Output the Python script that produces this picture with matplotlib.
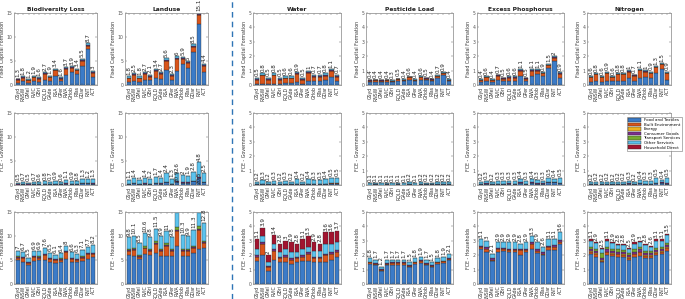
import matplotlib
matplotlib.use("Agg")
import matplotlib.pyplot as plt
from matplotlib.patches import Patch
from matplotlib.lines import Line2D

regions = ['GSyd', 'RNSW', 'GMel', 'RVIC', 'GBri', 'RQLD', 'GAde', 'RSA', 'GPer',
           'RWA', 'GHob', 'RTas', 'GDar', 'RNT', 'ACT']
categories = ['Food and Textiles', 'Built Environment', 'Energy', 'Consumer Goods',
              'Transport Services', 'Other Services', 'Household Direct']
colors = ['#3B7BC8', '#D9541A', '#EDB120', '#7E2F8E', '#77AC30', '#5BC3EE', '#A2142F']
titles = ['Biodiversity Loss', 'Landuse', 'Water', 'Pesticide Load',
          'Excess Phosphorus', 'Nitrogen']
row_labels = ['Fixed Capital Formation', 'FCE - Government', 'FCE - Households']
Z = [0] * 15

# ---------- Row 1: Fixed Capital Formation ----------
bio_fcf_tot = [1.3, 1.8, 1.2, 1.9, 1.6, 2.7, 1.9, 3.4, 1.6, 3.7, 3.9, 3.4, 5.5, 8.7, 3]
bio_fcf_food = [0.5, 0.8, 0.5, 0.8, 0.7, 1.0, 0.8, 1.9, 0.8, 2.0, 2.7, 2.2, 4.0, 7.5, 1.7]
bio_fcf_built = [0.55, 0.7, 0.45, 0.8, 0.65, 1.35, 0.8, 1.15, 0.55, 1.35, 0.85, 0.85, 1.0, 0.7, 0.85]
bio_fcf_cons = [0.1, 0.1, 0.1, 0.1, 0.1, 0.15, 0.1, 0.15, 0.1, 0.15, 0.15, 0.15, 0.2, 0.2, 0.15]
bio_fcf_other = [0.15, 0.2, 0.15, 0.2, 0.15, 0.2, 0.2, 0.2, 0.15, 0.2, 0.2, 0.2, 0.3, 0.3, 0.3]

lu_fcf_tot = [1.8, 2.5, 1.8, 2.7, 2.1, 3.4, 2.7, 5.6, 2.3, 6, 5.9, 5, 8.5, 15.1, 4.4]
lu_fcf_food = [0.7, 0.9, 0.7, 1.1, 1.0, 1.5, 1.3, 3.2, 1.0, 3.0, 4.3, 3.6, 6.8, 12.7, 2.8]
lu_fcf_built = [0.7, 1.15, 0.7, 1.15, 0.7, 1.45, 0.95, 1.9, 0.9, 2.5, 1.1, 0.95, 1.2, 1.8, 1.1]
lu_fcf_cons = [0.15, 0.15, 0.15, 0.15, 0.15, 0.15, 0.15, 0.2, 0.15, 0.2, 0.2, 0.15, 0.2, 0.25, 0.2]
lu_fcf_other = [0.25, 0.3, 0.25, 0.3, 0.25, 0.3, 0.3, 0.3, 0.25, 0.3, 0.3, 0.3, 0.3, 0.35, 0.3]

wa_fcf_tot = [0.5, 0.8, 0.5, 0.8, 0.5, 0.6, 0.6, 0.9, 0.5, 1, 0.7, 0.7, 0.8, 1.1, 0.7]
wa_fcf_food = [0.1, 0.1, 0.1, 0.1, 0.1, 0.15, 0.12, 0.2, 0.1, 0.25, 0.3, 0.25, 0.35, 0.55, 0.25]
wa_fcf_built = [0.28, 0.56, 0.28, 0.56, 0.28, 0.32, 0.35, 0.56, 0.28, 0.61, 0.27, 0.32, 0.30, 0.40, 0.31]
wa_fcf_cons = [0.05, 0.06, 0.05, 0.06, 0.05, 0.05, 0.05, 0.06, 0.05, 0.06, 0.05, 0.05, 0.06, 0.06, 0.05]
wa_fcf_other = [0.07, 0.08, 0.07, 0.08, 0.07, 0.08, 0.08, 0.08, 0.07, 0.08, 0.08, 0.08, 0.09, 0.09, 0.09]

pe_fcf_tot = [0.4, 0.4, 0.4, 0.4, 0.3, 0.5, 0.4, 0.6, 0.4, 0.6, 0.5, 0.4, 0.7, 0.9, 0.4]
pe_fcf_food = [0.2, 0.2, 0.2, 0.2, 0.2, 0.25, 0.25, 0.38, 0.25, 0.38, 0.35, 0.3, 0.52, 0.72, 0.25]
pe_fcf_built = [0.1, 0.13, 0.1, 0.13, 0.08, 0.15, 0.1, 0.15, 0.1, 0.17, 0.1, 0.07, 0.1, 0.1, 0.1]
pe_fcf_cons = [0.02, 0.02, 0.02, 0.02, 0.02, 0.02, 0.02, 0.02, 0.02, 0.02, 0.02, 0.02, 0.03, 0.03, 0.02]
pe_fcf_other = [0.03, 0.03, 0.03, 0.03, 0.03, 0.03, 0.03, 0.03, 0.03, 0.03, 0.03, 0.03, 0.03, 0.03, 0.03]

ep_fcf_tot = [0.4, 0.6, 0.4, 0.7, 0.5, 0.6, 0.6, 1.1, 0.5, 1.1, 1.1, 0.9, 1.5, 2, 0.9]
ep_fcf_food = [0.2, 0.25, 0.2, 0.35, 0.25, 0.3, 0.3, 0.65, 0.25, 0.65, 0.75, 0.6, 1.15, 1.65, 0.5]
ep_fcf_built = [0.15, 0.28, 0.15, 0.28, 0.18, 0.22, 0.22, 0.35, 0.18, 0.35, 0.25, 0.2, 0.22, 0.22, 0.28]
ep_fcf_cons = [0.03, 0.03, 0.03, 0.03, 0.03, 0.03, 0.03, 0.04, 0.03, 0.04, 0.04, 0.03, 0.04, 0.05, 0.04]
ep_fcf_other = [0.04, 0.05, 0.04, 0.05, 0.04, 0.05, 0.05, 0.05, 0.04, 0.05, 0.05, 0.05, 0.06, 0.06, 0.06]

ni_fcf_tot = [0.6, 0.8, 0.6, 0.9, 0.6, 0.8, 0.8, 1, 0.7, 1.1, 1, 0.9, 1.3, 1.5, 0.9]
ni_fcf_food = [0.2, 0.25, 0.2, 0.3, 0.25, 0.3, 0.3, 0.5, 0.3, 0.5, 0.55, 0.5, 0.8, 1.1, 0.35]
ni_fcf_built = [0.33, 0.48, 0.33, 0.53, 0.28, 0.43, 0.43, 0.43, 0.33, 0.53, 0.38, 0.33, 0.43, 0.33, 0.48]
ni_fcf_cons = [0.03, 0.03, 0.03, 0.03, 0.03, 0.03, 0.03, 0.03, 0.03, 0.03, 0.03, 0.03, 0.03, 0.03, 0.03]
ni_fcf_other = [0.05, 0.05, 0.05, 0.05, 0.05, 0.05, 0.05, 0.05, 0.05, 0.05, 0.05, 0.05, 0.05, 0.05, 0.05]

# ---------- Row 2: FCE - Government ----------
bio_gov_tot = [0.5, 0.7, 0.5, 0.7, 0.6, 0.8, 0.7, 0.9, 0.6, 1.1, 0.9, 0.8, 1.3, 1.2, 1.3]
bio_gov_food = [0.1, 0.2, 0.1, 0.15, 0.12, 0.2, 0.15, 0.25, 0.12, 0.3, 0.2, 0.2, 0.35, 0.4, 0.3]
bio_gov_cons = [0.04, 0.05, 0.04, 0.05, 0.04, 0.05, 0.05, 0.05, 0.04, 0.06, 0.05, 0.05, 0.07, 0.07, 0.07]
bio_gov_other = [0.36, 0.45, 0.36, 0.5, 0.44, 0.55, 0.5, 0.6, 0.44, 0.74, 0.65, 0.55, 0.88, 0.73, 0.93]

lu_gov_tot = [1.1, 1.4, 1, 1.4, 1.2, 1.7, 1.4, 2.4, 1.3, 2.6, 2, 1.9, 2.8, 4.8, 2.5]
lu_gov_food = [0.2, 0.35, 0.2, 0.3, 0.25, 0.4, 0.3, 0.6, 0.25, 0.7, 0.5, 0.45, 0.8, 1.5, 0.55]
lu_gov_cons = [0.06, 0.07, 0.06, 0.07, 0.06, 0.08, 0.07, 0.1, 0.06, 0.1, 0.08, 0.08, 0.1, 0.15, 0.1]
lu_gov_other = [0.84, 0.98, 0.74, 1.03, 0.89, 1.22, 1.03, 1.7, 0.99, 1.8, 1.42, 1.37, 1.9, 3.15, 1.85]

wa_gov_tot = [0.2, 0.3, 0.2, 0.3, 0.2, 0.3, 0.2, 0.4, 0.2, 0.4, 0.3, 0.3, 0.4, 0.5, 0.5]
wa_gov_food = [0.04, 0.05, 0.04, 0.05, 0.04, 0.05, 0.04, 0.06, 0.04, 0.06, 0.05, 0.05, 0.06, 0.08, 0.07]
wa_gov_built = [0.02, 0.03, 0.02, 0.03, 0.02, 0.03, 0.02, 0.04, 0.02, 0.04, 0.03, 0.03, 0.04, 0.08, 0.04]
wa_gov_other = [0.16, 0.24, 0.14, 0.22, 0.16, 0.22, 0.16, 0.3, 0.16, 0.3, 0.24, 0.24, 0.32, 0.34, 0.38]

pe_gov_tot = [0.1, 0.1, 0.1, 0.1, 0.1, 0.1, 0.1, 0.2, 0.1, 0.2, 0.2, 0.2, 0.2, 0.2, 0.2]
pe_gov_food = [0.03, 0.04, 0.03, 0.04, 0.03, 0.04, 0.03, 0.05, 0.03, 0.05, 0.04, 0.04, 0.05, 0.05, 0.05]
pe_gov_other = [0.09, 0.1, 0.08, 0.1, 0.09, 0.1, 0.09, 0.13, 0.09, 0.13, 0.11, 0.11, 0.14, 0.14, 0.15]

ep_gov_tot = [0.2, 0.3, 0.2, 0.3, 0.3, 0.3, 0.3, 0.4, 0.3, 0.4, 0.3, 0.3, 0.5, 0.4, 0.5]
ep_gov_food = [0.06, 0.1, 0.06, 0.08, 0.07, 0.1, 0.08, 0.15, 0.07, 0.15, 0.1, 0.1, 0.18, 0.2, 0.12]
ep_gov_cons = [0.02, 0.02, 0.02, 0.02, 0.02, 0.02, 0.02, 0.03, 0.02, 0.03, 0.02, 0.02, 0.03, 0.03, 0.03]
ep_gov_other = [0.14, 0.18, 0.12, 0.18, 0.16, 0.18, 0.17, 0.24, 0.16, 0.24, 0.2, 0.19, 0.3, 0.2, 0.33]

ni_gov_tot = [0.2, 0.2, 0.2, 0.2, 0.2, 0.2, 0.2, 0.3, 0.2, 0.4, 0.3, 0.3, 0.5, 0.4, 0.5]
ni_gov_food = [0.05, 0.07, 0.05, 0.06, 0.05, 0.07, 0.06, 0.1, 0.05, 0.12, 0.08, 0.08, 0.13, 0.15, 0.1]
ni_gov_cons = [0.02, 0.02, 0.02, 0.02, 0.02, 0.02, 0.02, 0.02, 0.02, 0.03, 0.02, 0.02, 0.03, 0.03, 0.03]
ni_gov_other = [0.13, 0.15, 0.12, 0.14, 0.14, 0.14, 0.14, 0.18, 0.13, 0.2, 0.17, 0.16, 0.3, 0.2, 0.34]

# ---------- Row 3: FCE - Households ----------
bio_hh_tot = [7, 6.7, 5.5, 6.9, 6.9, 7.6, 6.5, 6.1, 6.4, 8, 6.6, 6.3, 7.1, 7.7, 8.2]
bio_hh_food = [5.0, 4.6, 4.0, 4.8, 5.0, 5.0, 4.6, 4.4, 4.5, 5.2, 4.6, 4.5, 4.8, 5.2, 5.6]
bio_hh_built = [0.5, 0.8, 0.3, 0.8, 0.5, 1.1, 0.6, 0.6, 0.6, 1.4, 0.6, 0.5, 0.7, 1.0, 0.6]
bio_hh_cons = [0.2, 0.2, 0.2, 0.2, 0.2, 0.2, 0.2, 0.2, 0.2, 0.2, 0.2, 0.2, 0.2, 0.2, 0.2]
bio_hh_trans = [0.05, 0.05, 0.05, 0.05, 0.05, 0.05, 0.05, 0.05, 0.05, 0.05, 0.05, 0.05, 0.05, 0.05, 0.05]
bio_hh_other = [1.2, 1.05, 0.95, 1.05, 1.15, 1.25, 1.05, 0.85, 1.05, 1.15, 1.15, 1.05, 1.35, 1.25, 1.75]

lu_hh_tot = [9.8, 10.1, 8.5, 10.6, 9.8, 11.5, 9.9, 11, 9.8, 20.9, 10.3, 9.9, 11.3, 20.5, 12.8]
lu_hh_food = [6.0, 5.8, 5.2, 6.2, 6.0, 6.5, 5.8, 5.8, 5.8, 7.9, 5.8, 5.8, 6.5, 7.3, 7.5]
lu_hh_built = [0.8, 1.2, 0.5, 1.2, 0.8, 1.9, 1.0, 2.2, 1.0, 3.2, 1.0, 1.0, 1.0, 4.0, 1.0]
lu_hh_cons = [0.2, 0.2, 0.2, 0.2, 0.2, 0.2, 0.2, 0.2, 0.2, 0.2, 0.2, 0.2, 0.2, 0.2, 0.2]
lu_hh_trans = [0.2, 0.3, 0.2, 0.3, 0.2, 0.4, 0.3, 0.4, 0.3, 0.5, 0.3, 0.3, 0.3, 0.5, 0.3]
lu_hh_other = [2.6, 2.6, 2.4, 2.7, 2.6, 2.5, 2.6, 2.4, 2.5, 9.1, 3.0, 2.6, 3.3, 8.5, 3.8]

wa_hh_tot = [3.1, 3.9, 2, 3.4, 2.8, 3, 2.9, 2.8, 3.1, 3.3, 2.9, 2.8, 3.6, 3.6, 3.7]
wa_hh_food = [1.6, 2.0, 0.9, 1.7, 1.5, 1.5, 1.4, 1.5, 1.6, 1.6, 1.5, 1.5, 1.5, 1.7, 1.9]
wa_hh_built = [0.3, 0.8, 0.25, 0.6, 0.3, 0.4, 0.3, 0.3, 0.3, 0.5, 0.3, 0.3, 0.5, 0.4, 0.35]
wa_hh_cons = [0.1, 0.1, 0.1, 0.1, 0.1, 0.1, 0.1, 0.1, 0.1, 0.1, 0.1, 0.1, 0.1, 0.1, 0.1]
wa_hh_other = [0.4, 0.45, 0.3, 0.4, 0.35, 0.4, 0.4, 0.35, 0.4, 0.4, 0.4, 0.4, 0.7, 0.6, 0.6]
wa_hh_direct = [0.7, 0.55, 0.45, 0.6, 0.55, 0.6, 0.7, 0.55, 0.7, 0.7, 0.6, 0.5, 0.8, 0.8, 0.75]

pe_hh_tot = [1.8, 1.7, 1.2, 1.7, 1.7, 1.7, 1.7, 1.5, 1.8, 1.9, 1.7, 1.5, 1.8, 1.9, 2.1]
pe_hh_food = [1.4, 1.3, 0.9, 1.3, 1.35, 1.35, 1.35, 1.15, 1.4, 1.45, 1.3, 1.2, 1.4, 1.45, 1.65]
pe_hh_built = [0.1, 0.12, 0.08, 0.12, 0.1, 0.12, 0.1, 0.12, 0.1, 0.15, 0.1, 0.08, 0.1, 0.12, 0.1]
pe_hh_cons = [0.06, 0.06, 0.06, 0.06, 0.06, 0.06, 0.06, 0.06, 0.06, 0.06, 0.06, 0.06, 0.06, 0.06, 0.06]
pe_hh_other = [0.24, 0.22, 0.16, 0.22, 0.19, 0.17, 0.19, 0.17, 0.24, 0.24, 0.24, 0.16, 0.24, 0.27, 0.29]

ep_hh_tot = [3.1, 3, 2.1, 2.9, 2.9, 2.9, 2.9, 2.8, 2.9, 3.3, 2.9, 2.6, 3.1, 3.1, 3.6]
ep_hh_food = [2.45, 2.25, 1.6, 2.2, 2.3, 2.2, 2.2, 2.0, 2.2, 2.45, 2.15, 2.0, 2.35, 2.35, 2.8]
ep_hh_built = [0.1, 0.2, 0.1, 0.2, 0.1, 0.15, 0.15, 0.35, 0.15, 0.35, 0.15, 0.1, 0.2, 0.25, 0.15]
ep_hh_cons = [0.1, 0.1, 0.1, 0.1, 0.1, 0.1, 0.1, 0.1, 0.1, 0.1, 0.1, 0.1, 0.1, 0.1, 0.1]
ep_hh_other = [0.45, 0.45, 0.3, 0.4, 0.4, 0.45, 0.45, 0.35, 0.45, 0.4, 0.5, 0.4, 0.45, 0.4, 0.55]

ni_hh_tot = [3.1, 2.9, 2.5, 3.1, 2.9, 2.8, 2.8, 2.5, 2.9, 3, 2.8, 2.6, 3.1, 3.1, 3.5]
ni_hh_food = [2.1, 1.9, 1.5, 2.0, 1.95, 1.85, 1.85, 1.65, 1.85, 1.95, 1.8, 1.8, 2.0, 2.05, 2.3]
ni_hh_built = [0.15, 0.2, 0.1, 0.2, 0.15, 0.2, 0.15, 0.15, 0.2, 0.25, 0.15, 0.15, 0.15, 0.2, 0.2]
ni_hh_energy = [0.05, 0.05, 0.05, 0.05, 0.05, 0.05, 0.05, 0.05, 0.05, 0.05, 0.05, 0.05, 0.05, 0.05, 0.05]
ni_hh_cons = [0.15, 0.15, 0.15, 0.15, 0.15, 0.15, 0.15, 0.15, 0.15, 0.15, 0.15, 0.15, 0.15, 0.15, 0.15]
ni_hh_trans = [0.15, 0.15, 0.35, 0.15, 0.15, 0.15, 0.15, 0.15, 0.15, 0.15, 0.15, 0.15, 0.15, 0.15, 0.15]
ni_hh_other = [0.4, 0.4, 0.3, 0.45, 0.4, 0.3, 0.35, 0.25, 0.4, 0.35, 0.4, 0.25, 0.5, 0.4, 0.55]
ni_hh_direct = [0.1, 0.05, 0.05, 0.1, 0.05, 0.1, 0.1, 0.1, 0.1, 0.1, 0.1, 0.1, 0.1, 0.1, 0.1]

# panels: (component lists in category order, totals)
panels = [
    [([bio_fcf_food, bio_fcf_built, Z, bio_fcf_cons, Z, bio_fcf_other, Z], bio_fcf_tot),
     ([lu_fcf_food, lu_fcf_built, Z, lu_fcf_cons, Z, lu_fcf_other, Z], lu_fcf_tot),
     ([wa_fcf_food, wa_fcf_built, Z, wa_fcf_cons, Z, wa_fcf_other, Z], wa_fcf_tot),
     ([pe_fcf_food, pe_fcf_built, Z, pe_fcf_cons, Z, pe_fcf_other, Z], pe_fcf_tot),
     ([ep_fcf_food, ep_fcf_built, Z, ep_fcf_cons, Z, ep_fcf_other, Z], ep_fcf_tot),
     ([ni_fcf_food, ni_fcf_built, Z, ni_fcf_cons, Z, ni_fcf_other, Z], ni_fcf_tot)],
    [([bio_gov_food, Z, Z, bio_gov_cons, Z, bio_gov_other, Z], bio_gov_tot),
     ([lu_gov_food, Z, Z, lu_gov_cons, Z, lu_gov_other, Z], lu_gov_tot),
     ([wa_gov_food, wa_gov_built, Z, Z, Z, wa_gov_other, Z], wa_gov_tot),
     ([pe_gov_food, Z, Z, Z, Z, pe_gov_other, Z], pe_gov_tot),
     ([ep_gov_food, Z, Z, ep_gov_cons, Z, ep_gov_other, Z], ep_gov_tot),
     ([ni_gov_food, Z, Z, ni_gov_cons, Z, ni_gov_other, Z], ni_gov_tot)],
    [([bio_hh_food, bio_hh_built, Z, bio_hh_cons, bio_hh_trans, bio_hh_other, Z], bio_hh_tot),
     ([lu_hh_food, lu_hh_built, Z, lu_hh_cons, lu_hh_trans, lu_hh_other, Z], lu_hh_tot),
     ([wa_hh_food, wa_hh_built, Z, wa_hh_cons, Z, wa_hh_other, wa_hh_direct], wa_hh_tot),
     ([pe_hh_food, pe_hh_built, Z, pe_hh_cons, Z, pe_hh_other, Z], pe_hh_tot),
     ([ep_hh_food, ep_hh_built, Z, ep_hh_cons, Z, ep_hh_other, Z], ep_hh_tot),
     ([ni_hh_food, ni_hh_built, ni_hh_energy, ni_hh_cons, ni_hh_trans, ni_hh_other, ni_hh_direct], ni_hh_tot)],
]
ylims = [15, 15, 5, 5, 5, 5]

W, H = 685, 299
fig = plt.figure(figsize=(W / 100, H / 100), dpi=100)
fig.patch.set_facecolor('white')

col_left = [14, 125, 253, 366, 477, 587]
col_w = [83, 83, 88, 87, 87, 84]
row_top = [13, 113, 212]
row_h = 72
spine_c = '#999999'

for r in range(3):
    for c in range(6):
        x0 = col_left[c] / W
        y0 = 1 - (row_top[r] + row_h) / H
        ax = fig.add_axes([x0, y0, col_w[c] / W, row_h / H])
        comps, tot = panels[r][c]
        xs = list(range(len(regions)))
        bottom = [0.0] * len(regions)
        for k, comp in enumerate(comps):
            ax.bar(xs, comp, bottom=bottom, width=0.8, color=colors[k],
                   edgecolor='#2a2a2a', linewidth=0.25)
            bottom = [b + v for b, v in zip(bottom, comp)]
        ymax = ylims[c]
        for i, t in enumerate(tot):
            ax.text(i, max(t, bottom[i]) + ymax * 0.02, f'{t:g}', rotation=90,
                    ha='center', va='bottom', fontsize=4.1, color='#222222',
                    clip_on=False)
        ax.set_xlim(-0.7, len(regions) - 0.3)
        ax.set_ylim(0, ymax)
        if ymax == 15:
            ax.set_yticks([0, 5, 10, 15])
        else:
            ax.set_yticks([0, 1, 2, 3, 4, 5])
        ax.set_xticks(xs)
        ax.set_xticklabels(regions, rotation=90, fontsize=3.3, color='#333333')
        ax.tick_params(axis='y', labelsize=3.3, colors='#555555', length=1.2, width=0.3,
                       pad=1, direction='in', right=True)
        ax.tick_params(axis='x', length=1.2, width=0.3, pad=1, direction='in',
                       top=True, colors='#555555', labelcolor='#333333')
        ax.set_ylabel(row_labels[r], fontsize=3.4, color='#333333', labelpad=1.5)
        for s in ax.spines.values():
            s.set_color(spine_c)
            s.set_linewidth(0.6)
        if r == 0:
            ax.set_title(titles[c], fontsize=4.3, fontweight='bold', pad=1.5,
                         color='#222222')

# dashed separator
fig.add_artist(Line2D([232 / W, 232 / W], [0, 1], color='#2E75B6', linewidth=1.0,
                      linestyle=(0, (4, 3))))

handles = [Patch(facecolor=colors[k], edgecolor='#2a2a2a', linewidth=0.3,
                 label=categories[k]) for k in range(7)]
leg = fig.legend(handles=handles, loc='upper right', bbox_to_anchor=(684 / W, 1 - 115 / H),
                 fontsize=2.9, frameon=True, edgecolor='#555555', fancybox=False,
                 handlelength=3.2, handleheight=0.9, handletextpad=0.6, labelspacing=0.12,
                 borderpad=0.3)
leg.get_frame().set_linewidth(0.4)

fig.savefig('out.png', dpi=100, facecolor='white')
